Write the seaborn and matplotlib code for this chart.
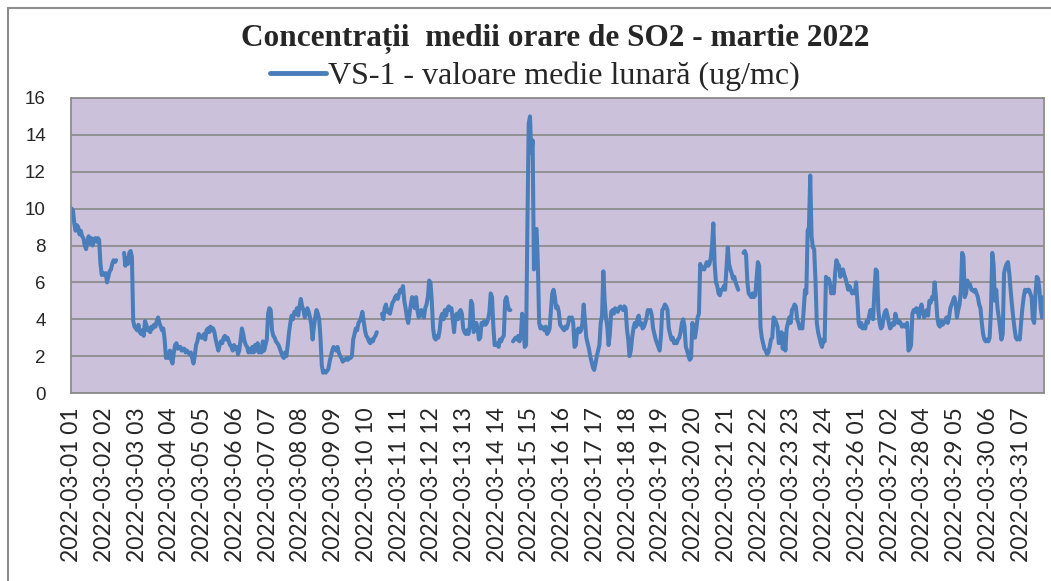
import numpy as np
import pandas as pd
import matplotlib
matplotlib.use("Agg")
import matplotlib.pyplot as plt
import seaborn as sns
from matplotlib.patches import Rectangle

# hourly SO2 values (ug/mc), one list per day of March 2022; nan = missing hour
# (27 March has 23 hours: clock change)
nan = np.nan
day01 = [10.0, 9.9, 9.2, 8.8, 9.1, 9.0, 8.6, 8.8, 8.5, 8.4, 8.0, 7.8, 8.2, 8.5, 8.1, 8.4, 8.0, 8.3, 8.4, 8.2, 8.4, 8.3, 7.0, 6.4]
day02 = [6.5, 6.4, 6.5, 6.0, 6.3, 6.6, 6.7, 7.0, 7.2, 7.1, 7.2, nan, nan, nan, nan, nan, 7.6, 6.9, 7.3, 7.0, 7.6, 7.7, 7.4, 3.9]
day03 = [3.6, 3.5, 3.4, 3.7, 3.3, 3.2, 3.4, 3.1, 3.9, 3.7, 3.4, 3.5, 3.3, 3.6, 3.5, 3.7, 3.6, 3.9, 4.1, 3.8, 3.6, 3.4, 3.5, 2.9]
day04 = [1.9, 2.0, 1.9, 2.3, 1.8, 1.6, 2.2, 2.6, 2.7, 2.4, 2.5, 2.5, 2.3, 2.4, 2.4, 2.2, 2.3, 2.2, 2.1, 2.2, 1.9, 1.6, 2.0, 2.6]
day05 = [2.8, 3.2, 3.1, 3.0, 3.0, 3.2, 2.9, 3.4, 3.5, 3.3, 3.6, 3.4, 3.5, 3.3, 2.9, 2.6, 2.3, 2.6, 2.8, 2.7, 3.0, 3.1, 2.9, 3.0]
day06 = [2.8, 2.6, 2.5, 2.3, 2.6, 2.4, 2.5, 2.1, 2.3, 2.9, 3.5, 3.2, 2.8, 2.6, 2.5, 2.2, 2.4, 2.2, 2.5, 2.2, 2.6, 2.3, 2.7, 2.2]
day07 = [2.5, 2.2, 2.8, 2.3, 2.6, 2.9, 4.3, 4.6, 4.5, 3.4, 3.1, 3.0, 2.8, 2.7, 2.6, 2.4, 2.2, 2.0, 1.9, 2.2, 2.0, 2.6, 3.3, 3.8]
day08 = [4.2, 4.0, 4.4, 4.3, 4.6, 4.2, 4.7, 5.1, 4.7, 4.5, 4.1, 4.3, 4.6, 4.4, 4.1, 3.7, 2.9, 3.6, 4.1, 4.5, 4.3, 4.0, 3.0, 1.5]
day09 = [1.1, 1.2, 1.1, 1.2, 1.3, 1.7, 2.0, 2.3, 2.5, 2.4, 2.3, 2.5, 2.2, 2.0, 1.9, 1.7, 1.8, 1.8, 1.9, 1.8, 1.9, 1.9, 2.0, 2.9]
day10 = [3.2, 3.5, 3.4, 3.8, 3.9, 4.1, 4.4, 3.9, 3.4, 3.1, 3.0, 2.8, 2.7, 2.9, 2.8, 3.0, 3.1, 3.3, nan, nan, nan, 4.3, 4.0, 4.6]
day11 = [4.8, 4.4, 4.5, 4.3, 4.6, 4.9, 5.0, 5.2, 5.3, 5.1, 5.4, 5.6, 5.5, 5.8, 5.0, 4.6, 4.1, 3.8, 4.3, 4.8, 5.2, 5.0, 4.6, 5.2]
day12 = [4.5, 4.1, 4.3, 4.5, 4.2, 4.1, 4.6, 4.8, 5.2, 6.1, 6.0, 5.0, 3.5, 3.0, 2.9, 3.1, 3.0, 3.4, 4.1, 4.3, 4.0, 4.5, 4.2, 4.6]
day13 = [4.7, 4.5, 4.6, 4.0, 3.3, 4.1, 4.3, 4.0, 4.4, 4.5, 4.3, 3.5, 3.3, 3.2, 3.4, 3.2, 3.6, 5.0, 4.8, 3.3, 3.6, 3.8, 3.5, 2.9]
day14 = [3.0, 3.8, 3.7, 3.9, 3.7, 3.8, 4.0, 4.4, 5.4, 5.2, 3.6, 2.6, 2.6, 2.7, 2.5, 2.9, 2.8, 3.0, 3.1, 5.0, 5.2, 4.8, 4.5, 4.5]
day15 = [nan, 2.8, 2.9, 3.0, 2.9, 3.1, 2.8, 3.1, 4.3, 3.5, 2.5, 2.6, 9.0, 14.6, 15.0, 13.0, 13.7, 6.7, 8.8, 8.9, 7.0, 3.8, 3.5, 3.6]
day16 = [3.5, 3.4, 3.6, 3.2, 3.3, 3.5, 4.5, 5.4, 5.6, 5.2, 4.6, 4.7, 4.4, 3.7, 3.6, 3.5, 3.4, 3.6, 3.5, 3.7, 4.1, 4.0, 4.1, 3.8]
day17 = [2.5, 2.6, 3.4, 3.5, 3.3, 3.4, 3.8, 4.8, 3.9, 3.0, 2.7, 2.4, 2.0, 1.7, 1.4, 1.25, 1.6, 2.0, 2.3, 2.6, 3.8, 4.2, 6.6, 5.0]
day18 = [4.1, 3.6, 2.6, 3.2, 4.4, 4.5, 4.3, 4.6, 4.5, 4.4, 4.6, 4.7, 4.6, 4.5, 4.7, 4.6, 3.5, 2.9, 2.0, 2.3, 3.0, 3.5, 3.8, 3.6]
day19 = [4.0, 4.2, 3.7, 3.8, 3.5, 3.6, 3.8, 4.1, 4.5, 4.4, 4.5, 4.2, 3.5, 3.2, 2.9, 2.7, 2.5, 2.3, 3.1, 4.5, 4.6, 4.8, 4.7, 4.5]
day20 = [3.5, 3.2, 2.9, 3.0, 2.7, 2.8, 2.7, 2.9, 3.0, 3.3, 3.8, 4.0, 3.6, 2.5, 2.3, 2.0, 1.8, 1.9, 3.8, 3.4, 3.0, 3.5, 4.1, 4.3]
day21 = [7.0, 6.7, 6.8, 6.7, 6.9, 7.1, 6.9, 7.0, 7.3, 8.0, 9.2, 7.0, 6.0, 5.8, 5.4, 5.3, 5.6, 5.6, 5.8, 5.6, 6.8, 7.9, 7.0, 6.7]
day22 = [6.5, 6.2, 6.3, 6.0, 5.8, 5.6, nan, nan, nan, 7.6, 7.7, 7.5, 6.0, 5.4, 5.3, 5.2, 5.4, 5.2, 5.3, 6.2, 7.1, 6.9, 3.6, 3.0]
day23 = [2.7, 2.4, 2.3, 2.1, 2.2, 2.5, 2.9, 3.0, 4.1, 4.0, 3.8, 3.6, 2.7, 2.9, 3.3, 2.4, 3.2, 2.3, 3.5, 3.8, 4.1, 3.8, 4.5, 4.6]
day24 = [4.8, 4.7, 4.0, 3.8, 3.5, 3.6, 3.5, 4.5, 5.6, 5.4, 8.8, 9.0, 11.8, 8.5, 7.9, 7.8, 6.1, 3.8, 3.3, 3.0, 2.7, 2.5, 2.9, 2.8]
day25 = [6.3, 6.0, 6.2, 6.0, 5.4, 5.5, 5.4, 6.5, 7.2, 7.0, 6.9, 6.3, 6.6, 6.7, 6.4, 6.2, 5.9, 5.6, 5.8, 5.6, 5.4, 5.5, 5.4, 6.0]
day26 = [5.0, 3.8, 3.6, 3.8, 3.5, 3.6, 3.5, 3.9, 3.8, 4.2, 4.5, 4.1, 4.0, 5.5, 6.7, 6.6, 4.5, 3.8, 3.5, 3.6, 4.1, 4.4, 4.5, 4.2]
day27 = [3.8, 3.5, 3.6, 3.8, 3.7, 4.3, 4.0, 3.8, 3.9, 3.8, 3.6, 3.7, 3.6, 3.7, 3.8, 2.3, 2.4, 2.6, 4.3, 4.5, 4.4, 4.6, 4.5]
day28 = [4.1, 4.6, 4.8, 4.4, 4.1, 4.3, 4.5, 4.2, 5.0, 4.9, 5.2, 5.1, 6.0, 5.2, 4.1, 3.7, 3.6, 3.9, 3.7, 3.8, 3.9, 4.1, 3.8, 4.1]
day29 = [4.6, 4.8, 5.0, 5.2, 4.9, 4.1, 4.5, 4.8, 5.5, 7.6, 7.4, 5.2, 5.4, 6.1, 5.8, 5.9, 5.6, 5.6, 5.5, 5.6, 5.4, 5.2, 4.8, 4.6]
day30 = [3.8, 3.2, 2.9, 2.8, 2.9, 2.8, 3.0, 4.5, 7.6, 7.0, 5.0, 5.6, 4.6, 4.1, 3.5, 2.9, 3.2, 6.5, 6.8, 7.0, 7.1, 6.5, 5.6, 4.8]
day31 = [4.1, 3.5, 3.0, 2.9, 3.0, 2.9, 3.8, 4.6, 5.2, 5.6, 5.5, 5.6, 5.6, 5.4, 5.2, 4.0, 3.8, 5.4, 6.3, 6.2, 5.6, 4.6, 4.1, 5.2]

tick_labels = [
    "2022-03-01 01", "2022-03-02 02", "2022-03-03 03", "2022-03-04 04", "2022-03-05 05",
    "2022-03-06 06", "2022-03-07 07", "2022-03-08 08", "2022-03-09 09", "2022-03-10 10",
    "2022-03-11 11", "2022-03-12 12", "2022-03-13 13", "2022-03-14 14", "2022-03-15 15",
    "2022-03-16 16", "2022-03-17 17", "2022-03-18 18", "2022-03-19 19", "2022-03-20 20",
    "2022-03-21 21", "2022-03-22 22", "2022-03-23 23", "2022-03-24 24", "2022-03-26 01",
    "2022-03-27 02", "2022-03-28 04", "2022-03-29 05", "2022-03-30 06", "2022-03-31 07",
]
series_name = "VS-1 - valoare medie lunară (ug/mc)"
title = "Concentrații  medii orare de SO2 - martie 2022"

days = [day01, day02, day03, day04, day05, day06, day07, day08, day09, day10, day11,
        day12, day13, day14, day15, day16, day17, day18, day19, day20, day21, day22,
        day23, day24, day25, day26, day27, day28, day29, day30, day31]
values = np.concatenate([np.array(d, dtype=float) for d in days])

df = pd.DataFrame({"hour": np.arange(len(values)), "so2": values})
# split into runs so missing hours leave gaps in the line
df["run"] = df["so2"].isna().cumsum()
df = df.dropna()

sns.set_style("white")
plt.rcParams["font.family"] = ["Liberation Sans", "DejaVu Sans"]

line_color = "#4A7EBB"

fig = plt.figure(figsize=(10.51, 5.81), dpi=100)
ax = fig.add_axes([71 / 1051, 1 - 393 / 581, (1044 - 71) / 1051, (393 - 98) / 581])
ax.set_facecolor("#CCC1DA")

sns.lineplot(data=df, x="hour", y="so2", units="run", estimator=None,
             color=line_color, linewidth=2.9, ax=ax, legend=False)

ax.set_xlim(-0.5, len(values) - 0.5)
ax.set_ylim(0, 16)
ax.set_yticks(range(0, 17, 2))
ax.yaxis.grid(True, color="#8C8C8C", linewidth=1.3)
ax.set_axisbelow(True)
ax.set_xticks(np.arange(0, len(values), 25)[:len(tick_labels)])
ax.set_xticklabels(tick_labels, rotation=90, fontsize=16.5, family=["Lato", "DejaVu Sans"])
ax.tick_params(axis="x", length=0, pad=10)
ax.tick_params(axis="y", length=0, pad=18, labelsize=13.5)
ax.set_xlabel("")
ax.set_ylabel("")
for s in ax.spines.values():
    s.set_color("#8C8C8C")
    s.set_linewidth(1.3)

# outer chart border
fig.patches.append(Rectangle((8 / 1051, -0.02), 1.05, 1 - 8 / 581 + 0.02,
                             transform=fig.transFigure, fill=False,
                             edgecolor="#8C8C8C", linewidth=1.5))

fig.text(555 / 1051, 1 - 39 / 581, title, ha="center", va="center",
         fontsize=22.5, fontweight="bold", family=["Liberation Serif", "DejaVu Serif"])

handle = plt.Line2D([], [], color=line_color, linewidth=3.5)
fig.legend([handle], [series_name], loc="center", bbox_to_anchor=(535 / 1051, 1 - 76 / 581),
           frameon=False, handlelength=1.75, handletextpad=0.05,
           prop={"family": ["Liberation Serif", "DejaVu Serif"], "size": 23})

fig.savefig("out.png", dpi=100)
